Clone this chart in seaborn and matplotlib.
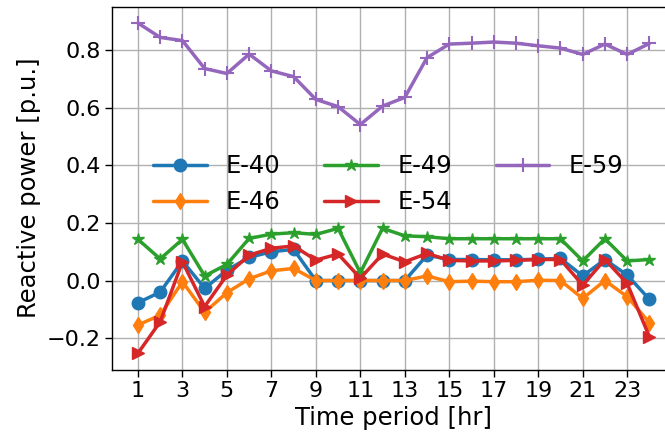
import matplotlib
matplotlib.use("Agg")
import matplotlib.pyplot as plt
import seaborn as sns
import pandas as pd

hours = list(range(1, 25))
e40 = [-0.077, -0.040, 0.068, -0.027, 0.036, 0.080, 0.100, 0.108, 0.0, 0.0, 0.0, 0.0,
       0.0, 0.088, 0.073, 0.073, 0.072, 0.072, 0.074, 0.077, 0.016, 0.073, 0.019, -0.065]
e46 = [-0.154, -0.120, -0.004, -0.110, -0.042, 0.006, 0.034, 0.042, 0.0, 0.0, 0.0, 0.0,
       0.0, 0.016, -0.004, -0.002, -0.004, -0.004, 0.001, 0.0, -0.062, 0.0, -0.056, -0.146]
e49 = [0.143, 0.075, 0.143, 0.016, 0.056, 0.146, 0.161, 0.166, 0.160, 0.181, 0.027, 0.181,
       0.155, 0.152, 0.145, 0.145, 0.145, 0.145, 0.145, 0.145, 0.068, 0.145, 0.068, 0.073]
e54 = [-0.252, -0.143, 0.065, -0.090, 0.019, 0.088, 0.112, 0.120, 0.071, 0.092, 0.008, 0.092,
       0.065, 0.094, 0.070, 0.068, 0.068, 0.070, 0.073, 0.073, -0.016, 0.073, -0.010, -0.195]
e59 = [0.893, 0.843, 0.832, 0.735, 0.718, 0.785, 0.727, 0.707, 0.628, 0.603, 0.541, 0.605,
       0.635, 0.773, 0.820, 0.823, 0.827, 0.823, 0.814, 0.806, 0.784, 0.820, 0.784, 0.822]
buses = ["E-40", "E-46", "E-49", "E-54", "E-59"]
series = [e40, e46, e49, e54, e59]
xticks = list(range(1, 24, 2))

sns.set_style("ticks", {"axes.grid": True, "grid.color": "#b0b0b0", "axes.edgecolor": "black",
                        "xtick.color": "black", "ytick.color": "black", "text.color": "black",
                        "axes.labelcolor": "black"})
plt.rcParams["font.family"] = ["DejaVu Sans"]

rows = []
for b, s in zip(buses, series):
    for h, v in zip(hours, s):
        rows.append({"bus": b, "hour": h, "q": v})
df = pd.DataFrame(rows)

colors = ["#1f77b4", "#ff7f0e", "#2ca02c", "#d62728", "#9467bd"]
markers = ["o", "d", "*", ">", "+"]
msizes = [9, 8, 9, 9, 10]

fig = plt.figure(figsize=(6.65, 4.38), dpi=100)
ax = fig.add_axes([0.169, 0.156, 0.846, 0.829])
for b, c, m, ms in zip(buses, colors, markers, msizes):
    sns.lineplot(data=df[df.bus == b], x="hour", y="q", ax=ax, color=c, marker=m,
                 markersize=ms, linewidth=2.5, label=b, markeredgecolor=c,
                 markeredgewidth=1.5 if m == "+" else 1.0)

ax.set_xticks(xticks)
ax.set_yticks([-0.2, 0.0, 0.2, 0.4, 0.6, 0.8])
ax.set_xlim(-0.15, 25.15)
ax.set_ylim(-0.309, 0.95)
ax.tick_params(labelsize=16, length=5, width=1)
ax.grid(True, color="#b0b0b0", linewidth=1)
ax.set_xlabel("Time period [hr]", fontsize=17.5, labelpad=3)
ax.set_ylabel("Reactive power [p.u.]", fontsize=17.5)
for sp in ax.spines.values():
    sp.set_color("black")
    sp.set_linewidth(1)
ax.legend(ncol=3, frameon=False, fontsize=17.5, loc="center left",
          handlelength=2.2, columnspacing=1.8,
          bbox_to_anchor=(0.055, 0.511), borderaxespad=0)

fig.savefig("out.png", dpi=100)
